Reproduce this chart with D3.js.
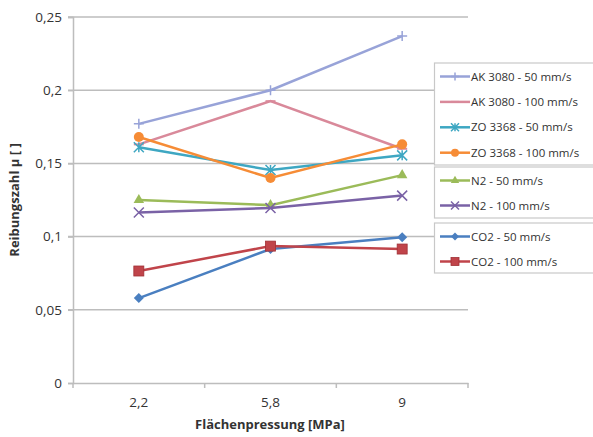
<!DOCTYPE html>
<html lang="de">
<head>
  <meta charset="UTF-8">
  <title>Reibungszahl</title>
  <script src="https://d3js.org/d3.v7.min.js"></script>
  <style>
    body { margin: 0; background: #fff; font-family: "Open Sans", Arial, sans-serif; }
    .tick text { fill: #333; }
  </style>
</head>
<body>
<div id="chart"></div>
<script>
  // Kategorien und Messwerte
  const categories = ["2,2", "5,8", "9"];
  const seriesNames = ["AK 3080 - 50 mm/s", "AK 3080 - 100 mm/s", "ZO 3368 - 50 mm/s", "ZO 3368 - 100 mm/s",
    "N2 - 50 mm/s", "N2 - 100 mm/s", "CO2 - 50 mm/s", "CO2 - 100 mm/s"];
  const ak50 = [0.177, 0.200, 0.237];
  const ak100 = [0.163, 0.1925, 0.160];
  const zo50 = [0.161, 0.1455, 0.1555];
  const zo100 = [0.168, 0.140, 0.163];
  const n250 = [0.125, 0.1215, 0.142];
  const n2100 = [0.1165, 0.1195, 0.128];
  const co250 = [0.058, 0.0915, 0.0995];
  const co2100 = [0.0765, 0.0935, 0.0915];
  const yTicks = [0, 0.05, 0.1, 0.15, 0.2, 0.25];

  const colors = ["#98a3d8", "#d9899a", "#3ea7c2", "#f68c36", "#9bbb59", "#7a62a6", "#4a7fc0", "#c0444a"];
  const markers = ["plus", "dash", "star", "circle", "triangle", "cross", "diamond", "square"];
  const values = [ak50, ak100, zo50, zo100, n250, n2100, co250, co2100];
  const series = seriesNames.map((name, i) => ({ name, values: values[i], color: colors[i], marker: markers[i] }));

  const width = 593, height = 437;
  const margin = { top: 17, right: 125, bottom: 54, left: 73 };

  const svg = d3.select("#chart").append("svg").attr("width", width).attr("height", height);

  const x = d3.scaleBand().domain(categories).range([margin.left, width - margin.right]);
  const y = d3.scaleLinear().domain([0, 0.25]).range([height - margin.bottom, margin.top]);
  const fmt = d => d3.format("~g")(d).replace(".", ",");

  // Gitterlinien
  svg.append("g").selectAll("line").data(yTicks.filter(d => d > 0)).enter().append("line")
    .attr("x1", margin.left - 5).attr("x2", width - margin.right)
    .attr("y1", d => y(d)).attr("y2", d => y(d))
    .attr("stroke", "#bdbdbd").attr("stroke-width", 1.5);

  // Y-Achse
  const yAxis = svg.append("g").attr("transform", `translate(${margin.left},0)`)
    .call(d3.axisLeft(y).tickValues(yTicks).tickFormat(fmt).tickSize(5).tickPadding(6));
  yAxis.select(".domain").attr("stroke", "#bdbdbd").attr("stroke-width", 1.5);
  yAxis.selectAll(".tick line").attr("stroke", "#bdbdbd").attr("stroke-width", 1.5);
  yAxis.selectAll("text").attr("font-size", 13.5).attr("font-family", "Open Sans");

  // X-Achse
  const xAxis = svg.append("g").attr("transform", `translate(0,${y(0)})`)
    .call(d3.axisBottom(x).tickSize(0).tickPadding(14));
  xAxis.select(".domain").attr("stroke", "#bdbdbd").attr("stroke-width", 1.5);
  xAxis.selectAll("text").attr("font-size", 13.5).attr("font-family", "Open Sans");
  const bounds = categories.map(c => x(c)).concat([x(categories[2]) + x.bandwidth()]);
  svg.append("g").selectAll("line").data(bounds).enter().append("line")
    .attr("x1", d => d).attr("x2", d => d).attr("y1", y(0)).attr("y2", y(0) + 5)
    .attr("stroke", "#bdbdbd").attr("stroke-width", 1.5);

  // Achsentitel
  svg.append("text").attr("x", 270).attr("y", 429).attr("text-anchor", "middle")
    .attr("font-size", 13).attr("font-weight", "bold").attr("fill", "#333")
    .text("Flächenpressung [MPa]");
  svg.append("text").attr("transform", "rotate(-90)").attr("x", -200).attr("y", 19)
    .attr("text-anchor", "middle").attr("font-size", 13).attr("font-weight", "bold").attr("fill", "#333")
    .text("Reibungszahl µ [ ]");

  // Marker
  function drawMarker(g, type, color, s) {
    if (type === "plus") {
      g.append("path").attr("d", `M${-s},0H${s}M0,${-s}V${s}`).attr("stroke", color).attr("stroke-width", 1.5).attr("fill", "none");
    } else if (type === "dash") {
      g.append("path").attr("d", `M${-s},0H${s}`).attr("stroke", color).attr("stroke-width", 2).attr("fill", "none");
    } else if (type === "star") {
      g.append("path").attr("d", `M${-s},${-s}L${s},${s}M${-s},${s}L${s},${-s}M0,${-s}V${s}`).attr("stroke", color).attr("stroke-width", 1.5).attr("fill", "none");
    } else if (type === "cross") {
      g.append("path").attr("d", `M${-s},${-s}L${s},${s}M${-s},${s}L${s},${-s}`).attr("stroke", color).attr("stroke-width", 1.5).attr("fill", "none");
    } else if (type === "circle") {
      g.append("circle").attr("r", s).attr("fill", color);
    } else if (type === "triangle") {
      g.append("path").attr("d", d3.symbol(d3.symbolTriangle, s * s * 1.9)()).attr("fill", color);
    } else if (type === "diamond") {
      g.append("path").attr("d", `M0,${-s}L${s},0L0,${s}L${-s},0Z`).attr("fill", color);
    } else if (type === "square") {
      g.append("rect").attr("x", -s).attr("y", -s).attr("width", 2 * s).attr("height", 2 * s)
        .attr("fill", color).attr("stroke", "#a03035").attr("stroke-width", 0.8);
    }
  }

  const line = d3.line().x((d, i) => x(categories[i]) + x.bandwidth() / 2).y(d => y(d));

  series.forEach(s => {
    svg.append("path").datum(s.values).attr("d", line)
      .attr("fill", "none").attr("stroke", s.color).attr("stroke-width", 2.5);
    s.values.forEach((v, i) => {
      const g = svg.append("g").attr("transform", `translate(${x(categories[i]) + x.bandwidth() / 2},${y(v)})`);
      drawMarker(g, s.marker, s.color, 5);
    });
  });

  // Legende in drei Kästen
  const groups = [[0, 1, 2, 3], [4, 5], [6, 7]];
  const boxTops = [63, 167, 223];
  const boxHeights = [102, 51, 50];
  const rowGap = [25.4, 25, 25];
  groups.forEach((idx, gi) => {
    svg.append("rect").attr("x", 434.5).attr("y", boxTops[gi]).attr("width", 170).attr("height", boxHeights[gi])
      .attr("fill", "#fff").attr("stroke", "#c8c8c8").attr("stroke-width", 1.2);
    idx.forEach((si, k) => {
      const s = series[si];
      const cy = boxTops[gi] + 13.5 + k * rowGap[gi];
      svg.append("line").attr("x1", 440).attr("x2", 470).attr("y1", cy).attr("y2", cy)
        .attr("stroke", s.color).attr("stroke-width", 2.5);
      const g = svg.append("g").attr("transform", `translate(455,${cy})`);
      drawMarker(g, s.marker, s.color, 4);
      svg.append("text").attr("x", 471).attr("y", cy + 4).attr("font-size", 11.5)
        .attr("fill", "#333").text(s.name);
    });
  });
</script>
</body>
</html>
